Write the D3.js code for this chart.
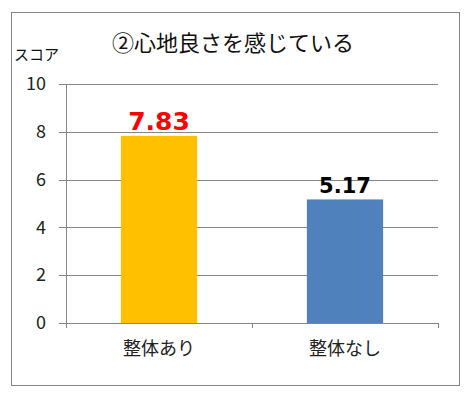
<!DOCTYPE html>
<html>
<head>
<meta charset="utf-8">
<script src="https://cdn.jsdelivr.net/npm/d3@7"></script>
<style>
  body { margin: 0; background: #fff; }
  text { font-family: "Noto Sans CJK JP", sans-serif; }
</style>
</head>
<body>
<div id="chart"></div>
<script>
var categories = ["整体あり", "整体なし"];
var scores = [7.83, 5.17];
var yTicks = [0, 2, 4, 6, 8, 10];
var title = "②心地良さを感じている";
var yLabel = "スコア";

var width = 473, height = 395;
var plotLeft = 66, plotRight = 438, plotTop = 84, plotBottom = 323;
var gray = "#868686";
var barColors = ["#FFC000", "#4F81BD"];
var labelColors = ["#FF0000", "#000000"];
var labelSizes = [25, 21];

var svg = d3.select("#chart").append("svg")
    .attr("width", width)
    .attr("height", height);

svg.append("rect")
    .attr("x", 11.5).attr("y", 12.5)
    .attr("width", 448).attr("height", 373)
    .attr("fill", "#fff")
    .attr("stroke", gray);

var y = d3.scaleLinear().domain([0, 10]).range([plotBottom, plotTop]);
var x = d3.scaleBand().domain(categories)
    .range([plotLeft, plotRight])
    .paddingInner(0.59)
    .paddingOuter(0.295);

// grid lines
svg.append("g")
    .attr("transform", "translate(" + plotLeft + ",0)")
    .call(d3.axisLeft(y).tickValues(yTicks).tickSize(-(plotRight - plotLeft)).tickFormat(""))
    .call(function(g) {
        g.select(".domain").remove();
        g.selectAll("line").attr("stroke", gray).attr("shape-rendering", "crispEdges");
    });

// y axis with labels
svg.append("g")
    .attr("transform", "translate(" + plotLeft + ",0)")
    .call(d3.axisLeft(y).tickValues(yTicks).tickSize(7).tickSizeOuter(0).tickPadding(13))
    .call(function(g) {
        g.select(".domain").attr("stroke", gray).attr("d", "M0.5," + plotTop + "V" + (plotBottom + 5));
        g.selectAll("line").attr("stroke", gray).attr("shape-rendering", "crispEdges");
        g.selectAll("text").attr("font-size", 18).attr("fill", "#222")
            .style("font-family", "'Noto Sans CJK JP', sans-serif");
    });

// bars
svg.selectAll("rect.bar")
    .data(scores)
    .enter().append("rect")
    .attr("class", "bar")
    .attr("x", function(d, i) { return x(categories[i]); })
    .attr("width", x.bandwidth())
    .attr("y", function(d) { return y(d); })
    .attr("height", function(d) { return plotBottom - y(d); })
    .attr("fill", function(d, i) { return barColors[i]; });

// category axis
var xg = svg.append("g")
    .attr("transform", "translate(0," + plotBottom + ")")
    .call(d3.axisBottom(x).tickSize(0).tickPadding(19))
    .call(function(g) {
        g.select(".domain").attr("stroke", gray).attr("d", "M" + plotLeft + ",0.5H" + plotRight);
        g.selectAll("text").attr("font-size", 18).attr("fill", "#222")
            .style("font-family", "'Noto Sans CJK JP', sans-serif");
    });
xg.selectAll("line.edge")
    .data(d3.range(categories.length + 1))
    .enter().append("line")
    .attr("class", "edge")
    .attr("x1", function(i) { return x.range()[0] + i * x.step() + 0.5; })
    .attr("x2", function(i) { return x.range()[0] + i * x.step() + 0.5; })
    .attr("y1", 0).attr("y2", 5)
    .attr("stroke", gray);

// value labels
svg.selectAll("text.value")
    .data(scores)
    .enter().append("text")
    .attr("class", "value")
    .attr("x", function(d, i) { return x(categories[i]) + x.bandwidth() / 2; })
    .attr("y", function(d) { return y(d) - 6; })
    .attr("text-anchor", "middle")
    .attr("font-weight", "bold")
    .attr("font-size", function(d, i) { return labelSizes[i]; })
    .attr("fill", function(d, i) { return labelColors[i]; })
    .style("font-family", "'DejaVu Sans', Verdana, sans-serif")
    .text(function(d) { return d.toFixed(2); });

// title
svg.append("text")
    .attr("x", 233).attr("y", 51)
    .attr("text-anchor", "middle")
    .attr("font-size", 22)
    .attr("fill", "#111")
    .text(title);

svg.append("text")
    .attr("x", 14).attr("y", 60)
    .attr("font-size", 15)
    .attr("fill", "#111")
    .text(yLabel);
</script>
</body>
</html>
